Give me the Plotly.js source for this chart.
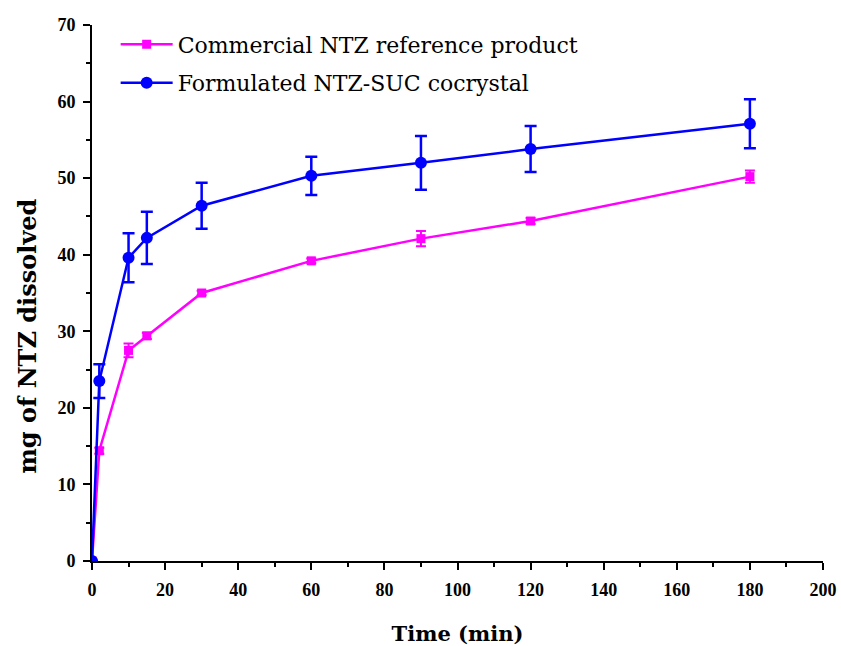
<!DOCTYPE html>
<html>
<head>
<meta charset="utf-8">
<script src="https://cdn.plot.ly/plotly-3.0.1.min.js"></script>
<style>
  html, body { margin: 0; padding: 0; background: #ffffff; }
  #chart { width: 841px; height: 646px; }
</style>
</head>
<body>
<div id="chart"></div>
<script>
// Sampling times (min)
const timeMin = [0, 2, 10, 15, 30, 60, 90, 120, 180];

// Commercial NTZ reference product: mean mg dissolved and SD
const commercialMean = [0, 14.4, 27.5, 29.4, 35.0, 39.2, 42.1, 44.4, 50.2];
const commercialSD   = [0, 0.4, 0.9, 0.4, 0.3, 0.3, 1.0, 0.4, 0.8];

// Formulated NTZ-SUC cocrystal: mean mg dissolved and SD
const cocrystalMean = [0, 23.5, 39.6, 42.2, 46.4, 50.3, 52.0, 53.8, 57.1];
const cocrystalSD   = [0, 2.2, 3.2, 3.4, 3.0, 2.5, 3.5, 3.0, 3.2];

const seriesNames = ['Commercial NTZ reference product', 'Formulated NTZ-SUC cocrystal'];
const xTitle = 'Time (min)';
const yTitle = 'mg of NTZ dissolved';

const serif = 'DejaVu Serif, serif';
const tickSerif = 'Liberation Serif, serif';

const traces = [
  {
    x: timeMin, y: commercialMean,
    name: seriesNames[0], legendgroup: 'a',
    type: 'scatter', mode: 'lines+markers',
    line: { color: '#ff00ff', width: 2.5 },
    marker: { symbol: 'square', size: 9, color: '#ff00ff' },
    error_y: { type: 'data', array: commercialSD, visible: true, color: '#ff00ff', thickness: 2, width: 5 }
  },
  {
    x: timeMin, y: cocrystalMean,
    name: seriesNames[1], legendgroup: 'b',
    type: 'scatter', mode: 'lines+markers',
    line: { color: '#0000ff', width: 2.5 },
    marker: { symbol: 'circle', size: 12, color: '#0000ff' },
    error_y: { type: 'data', array: cocrystalSD, visible: true, color: '#0000ff', thickness: 2.5, width: 6 }
  }
];

const layout = {
  width: 841, height: 646,
  paper_bgcolor: '#ffffff', plot_bgcolor: '#ffffff',
  margin: { l: 92, r: 18, t: 25, b: 85 },
  showlegend: true,
  legend: {
    x: 0.005, y: 1.003, xanchor: 'left', yanchor: 'top',
    bgcolor: 'rgba(0,0,0,0)', borderwidth: 0,
    font: { family: serif, size: 22, color: '#000000' },
    tracegroupgap: 7, indentation: 20, itemwidth: 52
  },
  xaxis: {
    range: [0, 200], dtick: 20, tick0: 0,
    showline: true, linecolor: '#000000', linewidth: 2,
    ticks: 'outside', ticklen: 7, tickwidth: 2, tickcolor: '#000000',
    minor: { dtick: 10, ticks: 'outside', ticklen: 4, tickwidth: 2, tickcolor: '#000000' },
    showgrid: false, zeroline: false, mirror: false,
    ticklabelstandoff: 4,
    tickfont: { family: tickSerif, size: 18, color: '#000000', weight: 'bold' },
    title: { text: '<b>' + xTitle + '</b>', font: { family: serif, size: 21, color: '#000000' }, standoff: 30 }
  },
  yaxis: {
    range: [0, 70], dtick: 10, tick0: 0,
    showline: true, linecolor: '#000000', linewidth: 2,
    ticks: 'outside', ticklen: 7, tickwidth: 2, tickcolor: '#000000',
    minor: { dtick: 5, ticks: 'outside', ticklen: 4, tickwidth: 2, tickcolor: '#000000' },
    showgrid: false, zeroline: false, mirror: false,
    ticklabelstandoff: 4,
    tickfont: { family: tickSerif, size: 18, color: '#000000', weight: 'bold' }
  },
  annotations: [
    {
      // y-axis title, set a little below the axis midpoint
      text: '<b>' + yTitle + '</b>',
      xref: 'paper', yref: 'paper',
      x: -0.088, y: 0.42, xanchor: 'center', yanchor: 'middle',
      textangle: -90, showarrow: false,
      font: { family: serif, size: 24, color: '#000000' }
    }
  ]
};

Plotly.newPlot('chart', traces, layout, { displayModeBar: false, staticPlot: true });
</script>
</body>
</html>
